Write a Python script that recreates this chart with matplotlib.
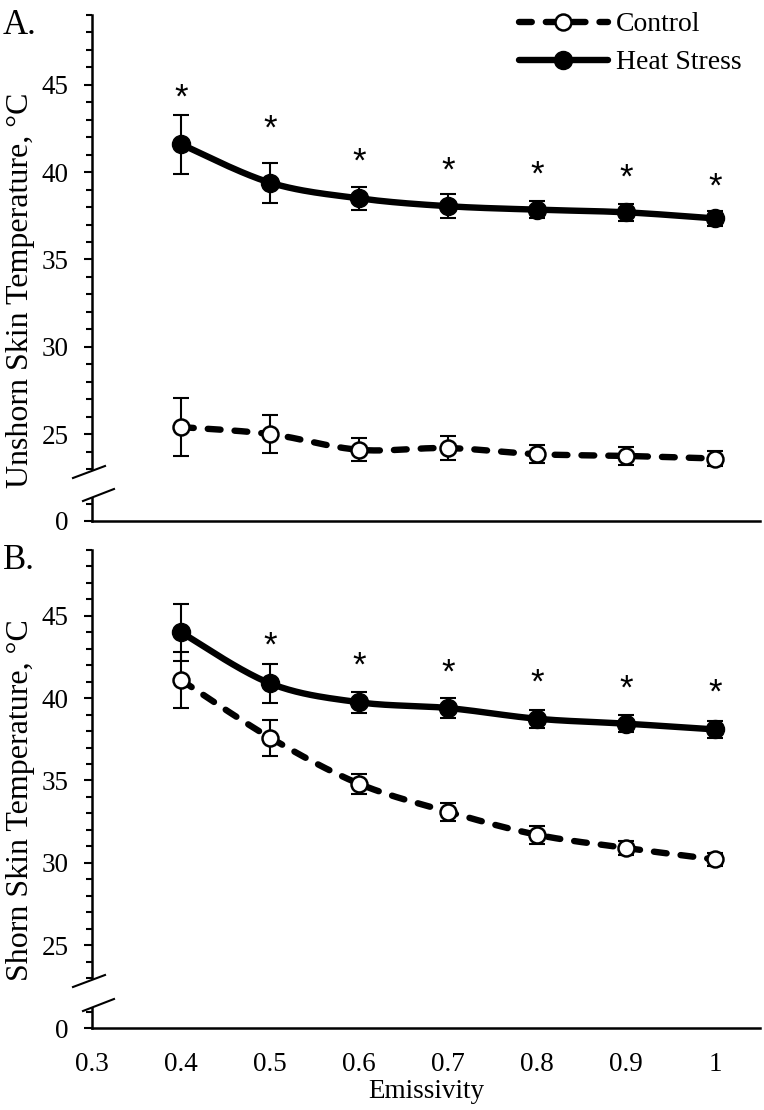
import numpy as np
import matplotlib
matplotlib.use("Agg")
import matplotlib.pyplot as plt
from matplotlib.lines import Line2D
from matplotlib.ticker import FixedLocator, MultipleLocator, NullLocator
from matplotlib.transforms import offset_copy

plt.rcParams["font.family"] = ["Liberation Serif", "DejaVu Serif"]

W, H = 764, 1110

emissivity = [0.4, 0.5, 0.6, 0.7, 0.8, 0.9, 1.0]
x_ticks = [0.3, 0.4, 0.5, 0.6, 0.7, 0.8, 0.9, 1.0]
x_ticklabels = ["0.3", "0.4", "0.5", "0.6", "0.7", "0.8", "0.9", "1"]

# A. unshorn skin
unshorn_control = [25.4, 25.0, 24.1, 24.2, 23.85, 23.75, 23.6]
unshorn_control_se = [1.65, 1.1, 0.65, 0.7, 0.5, 0.5, 0.45]
unshorn_heat = [41.6, 39.4, 38.5, 38.05, 37.85, 37.7, 37.35]
unshorn_heat_se = [1.7, 1.15, 0.65, 0.7, 0.5, 0.5, 0.45]
unshorn_star = [44.6, 42.8, 40.9, 40.4, 40.2, 40.0, 39.5]

# B. shorn skin
shorn_control = [41.1, 37.6, 34.8, 33.1, 31.7, 30.9, 30.2]
shorn_control_se = [1.7, 1.1, 0.6, 0.55, 0.55, 0.45, 0.4]
shorn_heat = [44.0, 40.9, 39.75, 39.4, 38.75, 38.45, 38.1]
shorn_heat_se = [1.75, 1.2, 0.65, 0.6, 0.55, 0.5, 0.5]
shorn_star = [np.nan, 43.5, 42.3, 41.9, 41.3, 40.9, 40.7]


def smooth(x, y, n=24):
    # excel style smoothed line (bezier through the points)
    pts = np.column_stack([x, y]).astype(float)
    p = np.vstack([pts[0], pts, pts[-1]])
    out = []
    t = np.linspace(0, 1, n, endpoint=False)[:, None]
    for i in range(1, len(p) - 2):
        p0, p1, p2, p3 = p[i - 1], p[i], p[i + 1], p[i + 2]
        c1 = p1 + (p2 - p0) / 6
        c2 = p2 - (p3 - p1) / 6
        out.append((1 - t) ** 3 * p1 + 3 * (1 - t) ** 2 * t * c1
                   + 3 * (1 - t) * t ** 2 * c2 + t ** 3 * p2)
    out.append(pts[-1:])
    out = np.vstack(out)
    return out[:, 0], out[:, 1]


def rect(l, t, r, b):
    return [l / W, 1 - b / H, (r - l) / W, (b - t) / H]


fig = plt.figure(figsize=(W / 100, H / 100), dpi=100)

LW = 4.6
TICK = 19.5


def panel(top, brk_top, brk_low, zero, control, control_se, heat, heat_se,
          stars, letter, ylabel, label_y, show_x):
    left, right = 92, 760
    ax = fig.add_axes(rect(left, top, right, brk_top))
    low = fig.add_axes(rect(left, brk_low, right, zero))
    scale = (brk_top - top) / 26.0
    ax.set_ylim(23, 49)
    low.set_ylim(0, (zero - brk_low) / scale)
    for a in (ax, low):
        a.set_xlim(0.3, 0.3 + (right - left) / 890.0)
        a.patch.set_alpha(0)
        for s in ("top", "right"):
            a.spines[s].set_visible(False)
        a.spines["left"].set_linewidth(1.8)
        a.tick_params(axis="y", which="major", direction="out", length=6,
                      width=1.5, labelsize=TICK, pad=11)
        a.tick_params(axis="y", which="minor", direction="out", length=4,
                      width=1.5)
    ax.spines["bottom"].set_visible(False)
    ax.xaxis.set_major_locator(NullLocator())
    ax.yaxis.set_minor_locator(MultipleLocator(1))
    ax.set_yticks([25, 30, 35, 40, 45])
    low.spines["bottom"].set_linewidth(1.8)
    low.set_yticks([0])
    low.yaxis.set_minor_locator(FixedLocator([1]))
    if show_x:
        low.set_xticks(x_ticks)
        low.set_xticklabels(x_ticklabels)
        low.tick_params(axis="x", length=0, labelsize=TICK, pad=17)
        low.set_xlabel("Emissivity", fontsize=TICK, labelpad=2)
    else:
        low.set_xticks([])

    for mean, se, solid in ((control, control_se, False), (heat, heat_se, True)):
        ax.errorbar(emissivity, mean, yerr=se, fmt="none", ecolor="black",
                    elinewidth=1.5, capsize=6, capthick=1.5, zorder=2)
        sx, sy = smooth(emissivity, mean)
        if solid:
            ax.plot(sx, sy, color="black", lw=LW, solid_capstyle="round", zorder=3)
            ax.plot(emissivity, mean, "o", color="black", ms=13, zorder=4)
        else:
            ax.plot(sx, sy, color="black", lw=LW, dashes=(2.0, 2.2),
                    dash_capstyle="round", zorder=3)
            ax.plot(emissivity, mean, "o", mfc="white", mec="black", mew=1.8,
                    ms=11.5, zorder=4)

    star_tr = offset_copy(ax.transData, fig=fig, y=-6, units="dots")
    for xv, yv in zip(emissivity, stars):
        if not np.isnan(yv):
            ax.text(xv, yv, "*", ha="center", va="center", fontsize=25,
                    family=["Liberation Sans", "DejaVu Sans"], transform=star_tr)

    # axis break marks
    for (y0, dx0, dy0, dx1, dy1) in ((brk_top, -19, 9, 13, -3), (brk_low, -9, 3, 22, -9)):
        fig.add_artist(Line2D([(left + dx0) / W, (left + dx1) / W],
                              [1 - (y0 + dy0) / H, 1 - (y0 + dy1) / H],
                              color="black", lw=1.5))

    fig.text(3 / W, 1 - (top - 6) / H, letter, fontsize=25, va="top")
    fig.text(21 / W, 1 - label_y / H, ylabel, rotation=90,
             fontsize=23, ha="center", va="center")
    return ax


panel(15, 469, 498, 521, unshorn_control, unshorn_control_se,
      unshorn_heat, unshorn_heat_se, unshorn_star, "A.",
      "Unshorn Skin Temperature, \u00b0C", 290, False)
panel(550, 978, 1008, 1028, shorn_control, shorn_control_se,
      shorn_heat, shorn_heat_se, shorn_star, "B.",
      "Shorn Skin Temperature, \u00b0C", 800, True)

handles = [
    Line2D([], [], color="black", lw=LW, dashes=(2.0, 2.2), dash_capstyle="round",
           marker="o", mfc="white", mec="black", mew=1.8, ms=11.5),
    Line2D([], [], color="black", lw=LW, solid_capstyle="round",
           marker="o", ms=13),
]
fig.legend(handles, ["Control", "Heat Stress"], loc="upper left",
           bbox_to_anchor=(519 / W, 1 - 12 / H), frameon=False, fontsize=20,
           handlelength=3.2, handletextpad=0.3, borderpad=0, borderaxespad=0,
           labelspacing=0.45)

fig.savefig("out.png", dpi=100)
